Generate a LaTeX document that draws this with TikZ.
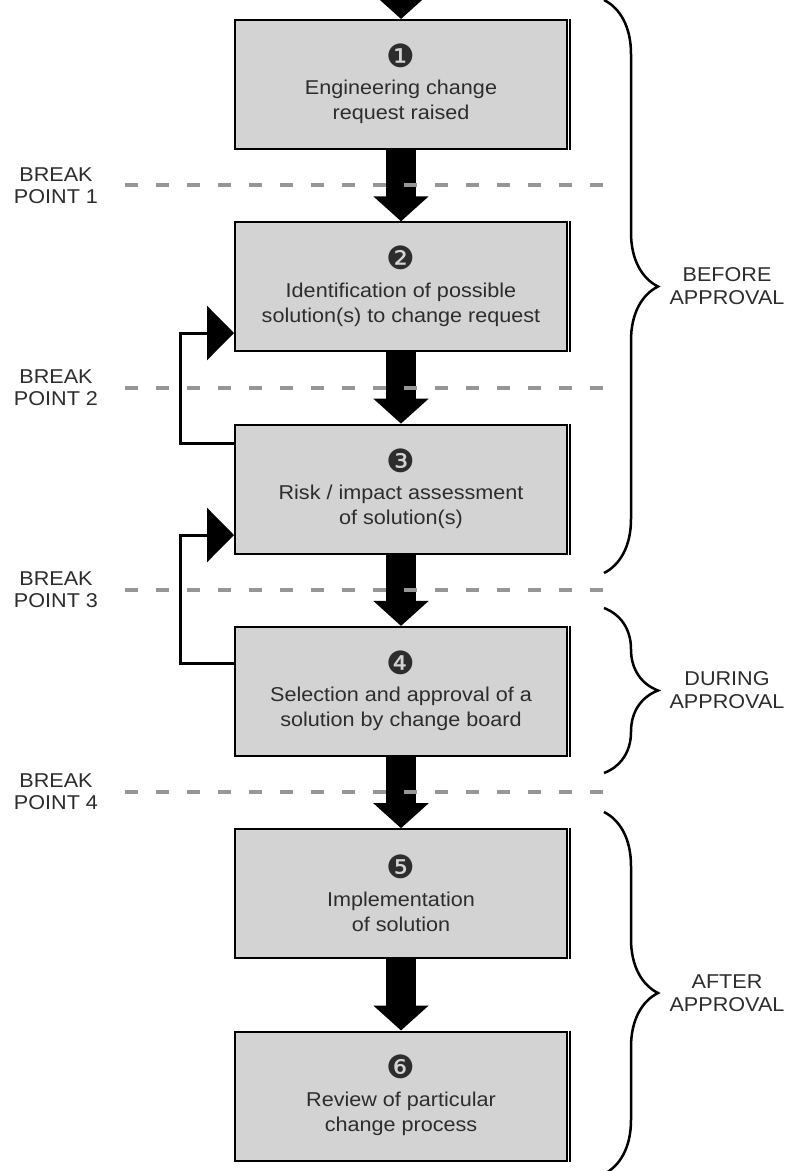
\documentclass[tikz,border=0pt]{standalone}
\usepackage{fontspec}
\setmainfont{Liberation Sans}[FakeStretch=1.08]
\newfontfamily\numfont{DejaVu Sans}
\usetikzlibrary{arrows.meta,decorations.pathreplacing}
\definecolor{boxgray}{RGB}{211,211,211}
\definecolor{textgray}{RGB}{45,45,45}
\definecolor{sepgray}{RGB}{150,150,150}
% step number as a large negative circled digit with a fixed line height
\newcommand{\stepno}[1]{\raisebox{-2.5pt}[20pt][0pt]{\fontsize{32}{32}\numfont #1}}

\begin{document}
\begin{tikzpicture}[x=1pt,y=-1pt,
  stepbox/.style={draw=black, line width=2pt, fill=boxgray,
    minimum width=332pt, minimum height=129pt, inner sep=0pt,
    align=center, text=textgray, font=\fontsize{20}{25}\selectfont},
  flow/.style={line width=30pt, -{Triangle[width=54pt,length=25pt]}},
  loopback/.style={line width=3pt, -{Triangle[width=54pt,length=27pt]}},
  separator/.style={draw=sepgray, line width=3.5pt, dash pattern=on 13pt off 18pt},
  bplabel/.style={align=center, text=textgray, font=\fontsize{20}{22}\selectfont},
  phase/.style={draw=black, line width=2.5pt, decorate,
    decoration={brace, amplitude=54pt, aspect=0.5}},
  phaselabel/.style={align=center, text=textgray, font=\fontsize{20}{23}\selectfont}
]
\useasboundingbox (0,0) rectangle (793,1171);
\clip (0,0) rectangle (793,1171);

% process steps
\node[stepbox] (b1) at (401,84.5)  {\stepno{❶}\\[5pt]Engineering change\\request raised};
\node[stepbox] (b2) at (401,286.8) {\stepno{❷}\\[5pt]Identification of possible\\solution(s) to change request};
\node[stepbox] (b3) at (401,489.1) {\stepno{❸}\\[5pt]Risk / impact assessment\\of solution(s)};
\node[stepbox] (b4) at (401,691.4) {\stepno{❹}\\[5pt]Selection and approval of a\\solution by change board};
\node[stepbox] (b5) at (401,893.7) {\stepno{❺}\\[5pt]Implementation\\of solution};
\node[stepbox] (b6) at (401,1096)  {\stepno{❻}\\[5pt]Review of particular\\change process};

% heavier right edge on each box
\foreach \b in {b1,b2,b3,b4,b5,b6}
  \draw[line width=2pt] ([xshift=2pt]\b.north east) -- ([xshift=2pt]\b.south east);

% main flow
\coordinate (entry) at (401,-30);
\draw[flow] (entry) -- (b1.north);
\draw[flow] (b1.south) -- (b2.north);
\draw[flow] (b2.south) -- (b3.north);
\draw[flow] (b3.south) -- (b4.north);
\draw[flow] (b4.south) -- (b5.north);
\draw[flow] (b5.south) -- (b6.north);

% feedback loops
\draw[loopback] (b3.west |- 0,443) -- (180,443) -- (180,333) -- (b2.west |- 0,333);
\draw[loopback] (b4.west |- 0,663) -- (180,663) -- (180,535) -- (b3.west |- 0,535);

% break points
\node[bplabel] (bp1) at (56,186) {BREAK\\POINT 1};
\node[bplabel] (bp2) at (56,388) {BREAK\\POINT 2};
\node[bplabel] (bp3) at (56,590) {BREAK\\POINT 3};
\node[bplabel] (bp4) at (56,792) {BREAK\\POINT 4};
\draw[separator] (125,185) -- (605,185);
\draw[separator] (125,388) -- (605,388);
\draw[separator] (125,590) -- (605,590);
\draw[separator] (125,792) -- (605,792);

% approval phases
\draw[phase] (604,0) -- (604,573);
\draw[phase] (604,608) -- (604,773);
\draw[phase] (604,812) -- (604,1174);
\node[phaselabel] (before) at (727,286.5) {BEFORE\\APPROVAL};
\node[phaselabel] (during) at (727,690.5) {DURING\\APPROVAL};
\node[phaselabel] (after)  at (727,993.5) {AFTER\\APPROVAL};
\end{tikzpicture}
\end{document}
